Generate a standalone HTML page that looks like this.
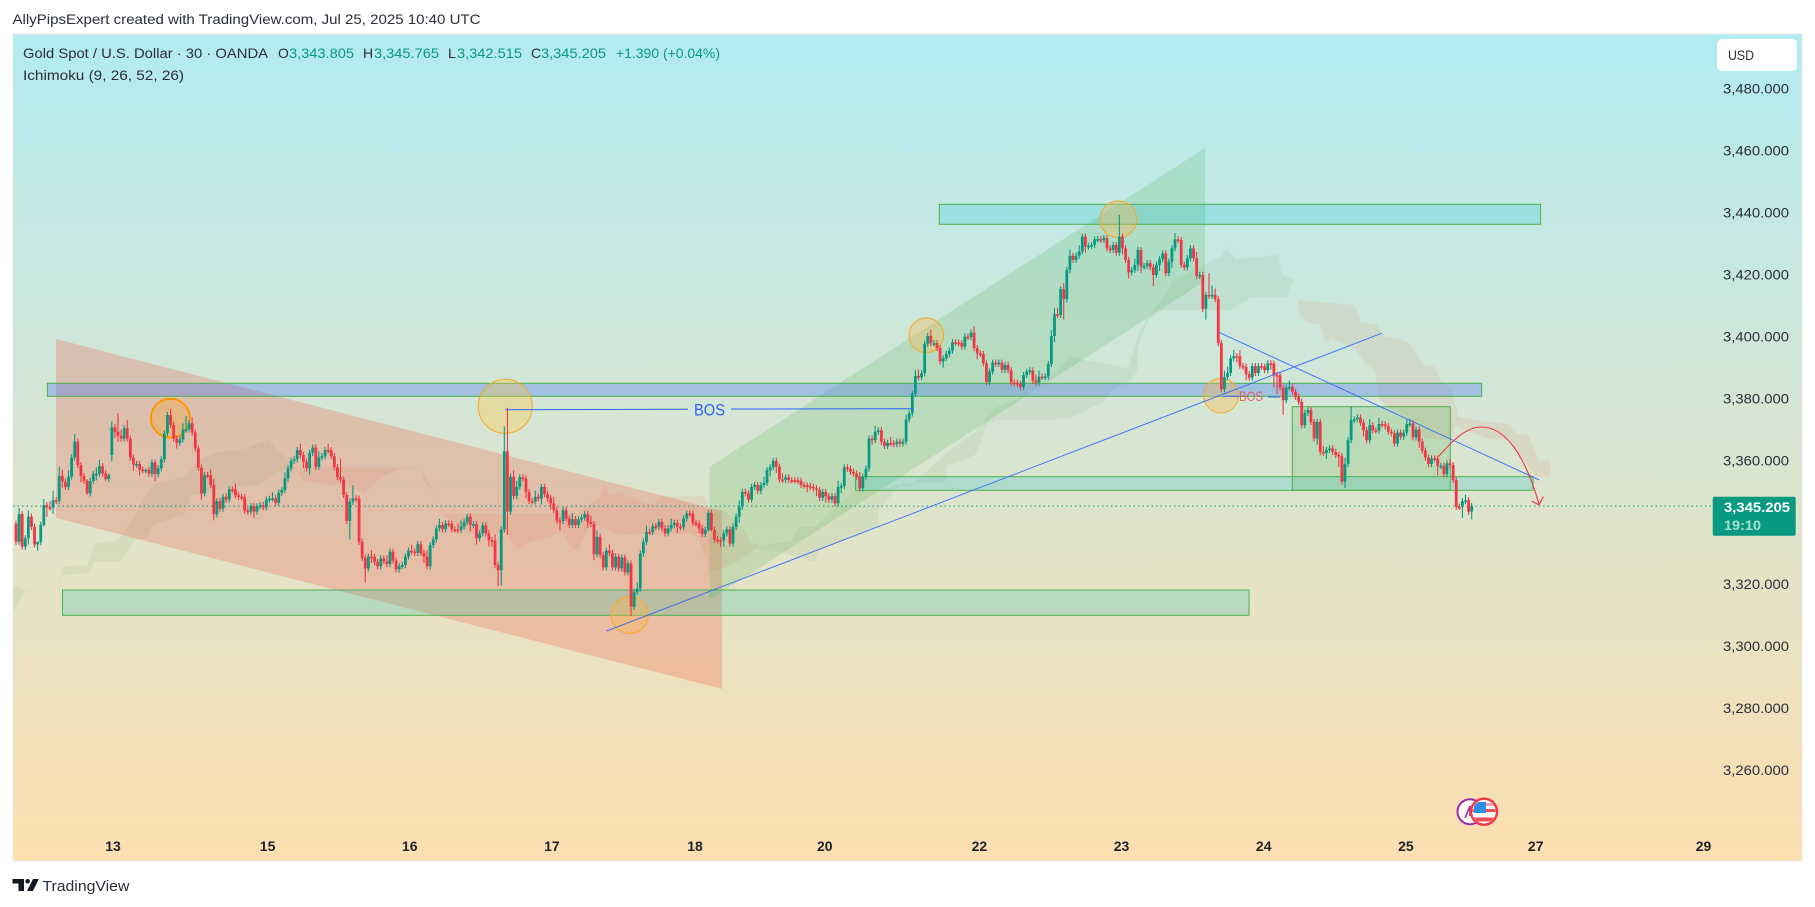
<!DOCTYPE html>
<html lang="en">
<head>
<meta charset="utf-8">
<title>Gold Spot / U.S. Dollar chart</title>
<style>
html,body{margin:0;padding:0;background:#fff;width:1815px;height:907px;overflow:hidden}
svg{display:block;font-family:"Liberation Sans",sans-serif}
</style>
</head>
<body>
<svg id="chart" width="1815" height="907" viewBox="0 0 1815 907" xmlns="http://www.w3.org/2000/svg">
<defs>
<linearGradient id="bgGrad" x1="0" y1="0" x2="0" y2="1">
<stop offset="0" stop-color="#b2ebf2"/>
<stop offset="1" stop-color="#fedfb0"/>
</linearGradient>
<clipPath id="panelClip"><rect x="13" y="34" width="1789" height="827"/></clipPath>
<clipPath id="flagClip"><circle cx="1484" cy="811.7" r="11.5"/></clipPath>
</defs>

<text x="12.5" y="24" font-size="14" fill="#2a2e39" textLength="468" lengthAdjust="spacingAndGlyphs">AllyPipsExpert created with TradingView.com, Jul 25, 2025 10:40 UTC</text>

<rect x="13" y="34" width="1789" height="827" fill="url(#bgGrad)" stroke="#e8e8e8" stroke-width="1"/>

<g id="cloudLayer" clip-path="url(#panelClip)"></g>

<g clip-path="url(#panelClip)">
<polygon points="56,339 722,511 722,689 56,518" fill="rgba(244,67,54,0.23)"/>
<polygon points="709.5,467 1205,148 1205,281 709.5,600" fill="rgba(76,175,80,0.19)"/>
<rect x="939.3" y="204.3" width="601.3" height="20" fill="rgba(0,188,212,0.2)" stroke="#4caf50" stroke-width="1"/>
<rect x="47.4" y="383.3" width="1434.3" height="13" fill="rgba(41,98,255,0.28)" stroke="#4caf50" stroke-width="1"/>
<rect x="855.4" y="476.7" width="677.6" height="13.6" fill="rgba(0,188,212,0.2)" stroke="#4caf50" stroke-width="1"/>
<rect x="62.5" y="590" width="1186.5" height="25.3" fill="rgba(0,188,170,0.2)" stroke="#4caf50" stroke-width="1"/>
<rect x="1292.3" y="406.7" width="158" height="83.6" fill="rgba(76,175,80,0.2)" stroke="#4caf50" stroke-width="1"/>
<circle cx="170.4" cy="418.3" r="19.5" fill="rgba(255,152,0,0.25)" stroke="#ff9800" stroke-width="2"/>
<circle cx="505.3" cy="406.3" r="27" fill="rgba(255,200,60,0.32)" stroke="#f9a825" stroke-width="1"/>
<circle cx="629.7" cy="615" r="18.5" fill="rgba(255,183,77,0.35)" stroke="#f9a825" stroke-width="1"/>
<circle cx="926.3" cy="335.3" r="17.3" fill="rgba(255,183,77,0.35)" stroke="#f9a825" stroke-width="1"/>
<circle cx="1118.3" cy="219.3" r="18.3" fill="rgba(255,183,77,0.35)" stroke="#f9a825" stroke-width="1"/>
<circle cx="1221" cy="395.7" r="17.3" fill="rgba(255,183,77,0.35)" stroke="#f9a825" stroke-width="1"/>
</g>

<line id="lastPriceLine" x1="13" x2="1713" stroke="#089981" stroke-width="1" stroke-dasharray="1.5 3"/>

<g id="candleLayer" clip-path="url(#panelClip)"></g>

<g clip-path="url(#panelClip)">
<line x1="505.3" y1="409.7" x2="688" y2="409.3" stroke="#2962ff" stroke-width="1"/>
<text x="694" y="415.3" font-size="17" fill="#2962ff" textLength="31" lengthAdjust="spacingAndGlyphs">BOS</text>
<line x1="731" y1="409" x2="914" y2="408.7" stroke="#2962ff" stroke-width="1"/>
<line x1="1223" y1="396.3" x2="1239" y2="396.3" stroke="#2962ff" stroke-width="1"/>
<text x="1239" y="401" font-size="14" fill="#f23645" fill-opacity="0.75" textLength="24" lengthAdjust="spacingAndGlyphs">BOS</text>
<line x1="1268" y1="397" x2="1280" y2="397" stroke="#2962ff" stroke-width="1"/>
<line x1="606.5" y1="631" x2="1381.7" y2="333.3" stroke="#2962ff" stroke-width="1" stroke-opacity="0.85"/>
<line x1="1219" y1="332.3" x2="1539.3" y2="480" stroke="#2962ff" stroke-width="1" stroke-opacity="0.85"/>
<path d="M1438.3 456.7 C1455 438 1467 427 1481.7 427 C1505 427 1525 455 1539 504" fill="none" stroke="#f23645" stroke-width="1.1"/>
<path d="M1531.7 501 L1539 505 L1543.3 496.7" fill="none" stroke="#f23645" stroke-width="1.1"/>
</g>

<text x="23" y="58" font-size="14" fill="#2a2e39" textLength="245" lengthAdjust="spacingAndGlyphs">Gold Spot / U.S. Dollar · 30 · OANDA</text>
<text x="278" y="58" font-size="14" fill="#2a2e39">O</text>
<text x="289" y="58" font-size="14" fill="#089981" textLength="65" lengthAdjust="spacingAndGlyphs">3,343.805</text>
<text x="363" y="58" font-size="14" fill="#2a2e39">H</text>
<text x="374" y="58" font-size="14" fill="#089981" textLength="65" lengthAdjust="spacingAndGlyphs">3,345.765</text>
<text x="448" y="58" font-size="14" fill="#2a2e39">L</text>
<text x="457" y="58" font-size="14" fill="#089981" textLength="65" lengthAdjust="spacingAndGlyphs">3,342.515</text>
<text x="531" y="58" font-size="14" fill="#2a2e39">C</text>
<text x="541" y="58" font-size="14" fill="#089981" textLength="65" lengthAdjust="spacingAndGlyphs">3,345.205</text>
<text x="616" y="58" font-size="14" fill="#089981" textLength="104" lengthAdjust="spacingAndGlyphs">+1.390 (+0.04%)</text>
<text x="23" y="80" font-size="14" fill="#2a2e39" textLength="161" lengthAdjust="spacingAndGlyphs">Ichimoku (9, 26, 52, 26)</text>

<g>
<rect x="1717" y="39" width="80" height="32" rx="5" fill="#ffffff"/>
<text x="1728" y="60" font-size="13.5" fill="#2a2e39" textLength="26" lengthAdjust="spacingAndGlyphs">USD</text>
</g>

<g id="priceAxis"></g>
<g id="timeAxis"></g>

<g>
<rect x="1712.7" y="496.7" width="83" height="39" rx="2" fill="#089981"/>
<text x="1724" y="512" font-size="14" font-weight="bold" fill="#ffffff" textLength="66" lengthAdjust="spacingAndGlyphs">3,345.205</text>
<text x="1724" y="530" font-size="14" font-weight="bold" fill="#a9dfd2" textLength="37" lengthAdjust="spacingAndGlyphs">19:10</text>
</g>

<g>
<circle cx="1470" cy="811.7" r="12.5" fill="#ffffff" stroke="#9c27b0" stroke-width="2"/>
<path d="M1465 818 L1470 806 L1470 816" fill="none" stroke="#9c27b0" stroke-width="1.6"/>
<circle cx="1484" cy="811.7" r="13" fill="#ffffff" stroke="#f23645" stroke-width="2.4"/>
<g clip-path="url(#flagClip)">
<rect x="1472" y="803" width="24" height="3" fill="#f7a1a4"/>
<rect x="1472" y="809" width="24" height="3" fill="#f44b55"/>
<rect x="1472" y="817.5" width="24" height="4" fill="#f44b55"/>
<rect x="1474" y="802" width="12" height="11" fill="#2f8fe8"/>
</g>
</g>

<g>
<path d="M12.5 879 H24 V891 H18.5 V883.5 H12.5 Z M33 879 H38.8 L33 891 H27 Z" fill="#131722"/>
<circle cx="27.6" cy="881.3" r="2.3" fill="#131722"/>
<text x="42.4" y="891" font-size="14.5" fill="#2a2e39" textLength="87" lengthAdjust="spacingAndGlyphs">TradingView</text>
</g>
</svg>

<script>
const closes = [
3333.7,3342.6,3332.1,3334.8,3341.8,3338.5,3332.8,3333.7,3339.1,3345.5,3344.8,3344.7,3347.1,3346.9,3354.9,3353.1,3351.4,3354.7,3360.9,3366.0,
3358.4,3354.9,3353.4,3349.3,3353.3,3355.5,3355.7,3358.1,3355.7,3353.9,3355.2,3370.6,3369.2,3367.9,3367.0,3370.3,3367.0,3360.8,3358.6,3358.8,
3357.0,3356.8,3356.9,3355.7,3359.3,3355.5,3357.4,3360.3,3368.7,3374.6,3371.4,3367.0,3365.6,3366.7,3369.9,3370.0,3371.9,3368.9,3363.8,3357.6,
3349.3,3355.2,3355.1,3352.0,3342.6,3346.8,3344.4,3348.2,3347.3,3350.6,3350.5,3348.7,3348.2,3348.1,3343.7,3343.4,3345.2,3343.4,3345.2,3345.5,
3344.8,3347.3,3347.6,3347.7,3346.3,3349.5,3350.4,3354.1,3357.4,3359.8,3360.3,3363.3,3361.7,3359.5,3357.4,3362.4,3364.1,3357.9,3360.9,3361.3,
3363.3,3363.2,3361.3,3357.7,3354.5,3353.8,3348.8,3340.4,3346.6,3347.7,3347.6,3333.7,3328.5,3325.1,3328.9,3328.8,3327.2,3325.8,3328.3,3327.4,
3326.5,3330.5,3327.6,3324.8,3325.8,3326.2,3328.9,3330.8,3330.5,3330.1,3332.9,3330.1,3328.9,3325.8,3332.6,3334.4,3338.0,3339.1,3337.7,3339.6,
3339.5,3337.7,3337.6,3337.5,3338.6,3340.1,3341.8,3339.1,3339.4,3334.8,3336.4,3339.0,3336.4,3334.2,3334.1,3326.2,3324.5,3337.7,3362.9,3343.4,
3354.7,3348.4,3351.4,3354.5,3354.1,3349.8,3346.8,3346.7,3348.2,3347.7,3351.4,3349.1,3347.7,3346.1,3343.9,3340.5,3340.4,3343.9,3341.2,3339.1,
3341.0,3339.1,3340.9,3341.5,3342.6,3340.1,3339.4,3329.7,3335.3,3329.4,3325.4,3330.8,3330.1,3325.4,3328.9,3325.1,3328.6,3323.8,3326.7,3312.7,
3317.5,3318.6,3329.9,3333.7,3336.9,3336.8,3338.7,3338.5,3340.1,3338.0,3336.4,3338.0,3339.1,3339.8,3338.5,3338.4,3341.2,3342.8,3342.7,3339.8,
3339.6,3338.0,3336.2,3337.5,3343.0,3337.5,3334.4,3334.2,3334.1,3336.4,3337.7,3333.1,3338.5,3341.8,3345.0,3349.8,3349.3,3347.3,3351.4,3352.0,
3350.1,3352.0,3352.7,3356.8,3357.7,3359.8,3357.9,3353.8,3353.7,3354.5,3353.6,3353.55,3353.5,3353.4,3352.0,3351.9,3351.7,3351.4,3350.9,3350.4,
3347.9,3349.8,3348.4,3347.3,3348.4,3346.1,3351.4,3351.7,3357.7,3357.3,3356.3,3355.7,3354.7,3350.9,3354.7,3357.3,3367.0,3366.5,3369.2,3369.7,
3366.0,3364.6,3365.6,3365.5,3365.2,3366.0,3365.4,3366.0,3373.2,3375.1,3381.4,3387.2,
3386.8,3388.1,3397.6,3400.1,3397.8,3397.8,3396.2,3391.9,
3392.9,3394.3,3395.4,3398.1,3398.0,3397.8,3396.7,3399.9,3399.8,3401.2,3396.2,3394.5,3394.3,3391.3,3385.2,3388.6,3391.5,3391.1,3391.5,3389.2,
3390.8,3389.0,3385.1,3385.0,3384.6,3383.6,3387.5,3388.6,3389.0,3385.7,3385.1,3387.0,3386.9,3387.0,3391.1,3400.1,3407.1,3406.9,3415.2,3412.0,
3421.4,3426.0,3424.7,3426.0,3427.4,3432.2,3429.0,3429.2,3429.5,3431.3,3431.4,3431.1,3431.7,3428.4,3427.9,3429.5,3427.0,3432.2,3428.4,3424.7,
3420.6,3421.4,3423.1,3427.9,3422.5,3422.7,3423.6,3422.3,3419.8,3423.1,3424.9,3426.8,3420.4,3424.1,3428.4,3431.3,3431.1,3423.1,3422.3,3425.2,
3428.4,3425.2,3419.5,3419.8,3408.9,3413.4,3413.1,3413.4,3412.0,3397.8,
3382.9,3386.9,3388.2,3392.9,3393.6,3393.55,3390.5,3390.2,3387.8,3386.7,
3390.4,3388.2,3390.4,3390.2,3389.1,3391.3,3391.2,3387.5,3387.4,3383.4,
3379.4,3383.5,3383.7,3382.1,3380.5,3378.9,3371.3,3375.3,3376.2,3372.4,
3367.0,3372.4,3362.7,3362.4,3363.3,3363.8,3362.7,3361.7,3361.3,3353.1,
3358.8,3366.5,3373.0,3373.2,3373.8,3372.1,3369.7,3366.5,3371.3,3369.7,
3369.6,3371.7,3371.6,3371.0,3369.2,3368.7,3365.4,3368.9,3367.6,3368.9,
3371.7,3371.9,3367.4,3369.9,3366.0,3363.1,3360.9,3358.8,3360.6,3360.55,
3358.1,3358.2,3355.5,3359.0,3358.4,3353.6,3345.0,3344.9,3346.8,3347.1,
3343.4,3345.2
];
const wickUp = [
1,2,1,1,2,1,1,0,1,2,1,2,3,1,3,2,1,2,1,2.5,
1,1,1,0.5,1,1,2,2,1,1,0.5,2,1,6,2,1,2.7,1,1,1,
1,1,0.5,1,1,1,1,1,1,1,2,1,1,1,2,4.3,1,2,1,1,
1,1,1,2,2,1,1,1,1,1,1,2,1,1,1,1,1,1,1,1,
1,1,1,2,1,1,1,2,1,1,1,1,2,1,1,1,1,1,2,1,
1,2,1,1,1,6,1,1,1,4.3,1,1,1,1,1,2,1,1,1,1,
2,1,1,1,1,1,1,1,2,1,1,1,1,2,1,1,1,2,1,1,
1,1,1,2,2,1,1,1,1,1,1,1,1,1,1,2,1,1,8,14,
1,2,2,1,1,1,1,1,2,1,1,1,1,1,2,1,1,1,1,1,
2,1,1,1,1,1,2,1,2,1,1,1,2,1,1,1,1,1,1,1,
1,2,1,1,2,1,1,1,1,1,1,1,2,1,1,1,1,1,1,1,
1,1,1,1,1,1,1,1,1,1,1,1,1,1,2,1,1,1,1,1,
1,1,2,1,1,1,1,1,2,1,1,1,1,1,1,1,1,1,1,1,
1,1,1,1,1,1,2,1,1,1,1,1,1,1.5,1,1,1,1,2,1,
1,1,1,2,1,1,1,1,1.5,1,1,2,2,1,1,1,2,1,1,1,
1,1,1,1,1,1,1,1,1,1,2,1,1,1,1,1,1,1,1,1,
1,1,1,1,1,1,1,1,1,1,2,2,1,1,1,2,2,2,1,2,
1,2,1,1,2,1,1,1,1,1,1,1,1,1,1,1,1,7,1,1,
1,1,2,1,1,1,1,1,1,1,1,1,1,1,1,2,1,1,1,1,
1,1,2,1,1,1,7,3,2,1,1,2,2,1,2,1,2,1,1,1,
1,1,1,1,1,1,1,1,1,1,1,1,2,1,1,1,1,1,1,1,
1,1,1,2,1,1,1,1,1,1,2,1,4.3,1,1,1,1,1,2,1,
1,2,1,1,1,1,1,1,1,1,1.5,1.5,1,1,1,1,1,1,1,1,
1,1,1,1,1.5,1,1,1,1,1.8,1,1
];
const wickDown = [
1,1,1,1,2,1,1,2,1,0.5,3,1,2,1,1,2,1,1,1,1,
1,2,1,0.5,1,1,2,1,1,0.5,1,2,2,2,1,1,1,1,2,1,
2,1,1,1,1,2.3,1,1,1,1,1,1,1.8,1,1,1,1,1,1,1,
2,1,1,1,2,1,1,1,1,1,1,1,1,1,1,1,1,2,1,1,
1,1,1,1,1,1,1,1,1,1,1,1,1,2,1,2,1,1,1,1,
1,1,1,1,1,1,1,1,6,1,1,1,1,4.5,1,2,1,1,1,1,
1,1,1,1,1,1,1,1,1,1,1,1,2,1,1,1,1,1,1,1,
1,1,1,1,1,1,1,2,1,2,1,1,1,2,2,1,5,5,1,7.5,
1,1,1,1,1,2,1,1,1,1,2,1,1,2,1,1,3,1,1,1,
1,1,1,1,1,2,1,2,1,1,1,1,1,1,1,1,1,1,1,3,
1,1,1,1,1,1,1,1,1,1,1,1,1,1,2,1,1,1,1,1,
1,1.5,1,1,0.5,0.5,1,1,2,2,1,1,1,1,2,1,1,1,1,1,
1,1,1,1,2,1,2,1,1,1,1,1,1,1,1,1,2,1,1,2,
1,1,2,1,1,1,1,2,1,1,1,1,1,1,1,1,1,1.5,1,1,
1,1,1,1,1,1,1,1,1,1,1,1,1,1,1,1,1,1,1,1,
2,1,1,1,1,1,1,1,1,1,1,2,1,1,1,1,1,1,1,1,
1,1,1,1,1,1,1,1,1,1,1,1,1,1,1,1,2,1,1,6.5,
1,1,1,1,1,1,2,1,1,1,1,1,1,1,1,1,1,1,2,1,
2,1,1,2,2,1,1,1,3.5,1,2,1,1,1,2,1,1,1,1,1,
1,1,1,1,1,3.5,1,1,1,1,1,1,1,1,1,2,1,1,2,1,
1,1,1,1,1,1,2,4,6,1,4.8,1,1,1,1,1,1,1,1,1,
1,2,1,1,2,1,1,1,3.5,1,2,1,1,1,1,1,2,1,1,1,
1,1,1,1,1,1,1,1,1,1,1,1,1,1,2,1,1,1,1,1,
3,1,1,1,1,1,1,1,3.5,1,1,2.5
];
const gapBars = [0, 31];
const gapOpens = [3339.5, 3361.7];

const priceTicks = [3480,3460,3440,3420,3400,3380,3360,3340,3320,3300,3280,3260];
const priceTickLabels = ["3,480.000","3,460.000","3,440.000","3,420.000","3,400.000","3,380.000","3,360.000","","3,320.000","3,300.000","3,280.000","3,260.000"];
const timeTickLabels = ["13","15","16","17","18","20","22","23","24","25","27","29"];
const timeTickBars = [31.4,81.4,127.4,173.4,219.7,261.7,311.7,357.7,403.7,449.7,491.7,546];
const lastPrice = 3345.205;

const cloudGreen1Bars = [-1,3.8,14,15.3,23,25.5,33.2,39,44.1,55,58.9,64,74.2,81.9,84.5,88.3,88.3,78,69.1,58.9,56.3,55,44.1,42.2,38.4,33.9,25.5,23,15.3,14,3.1,-0.7];
const cloudGreen1Prices = [3319.7,3318.1,3320.2,3325.6,3326.1,3333.1,3334.2,3342.8,3352.5,3354.7,3360,3362.2,3363.8,3366.7,3363.3,3360,3357.9,3352,3351.4,3348.8,3348.8,3342.8,3339.1,3334.8,3334.2,3327.2,3327.2,3323.5,3322.9,3320.2,3318.1,3311.1];
const cloudRed1Bars = [89.6,130.6,132.5,135.1,137.6,181.8,189,190.5,192,195.6,198.2,205.9,208.4,222.5,224.4,228.9,234.7,237.9,240.4,240.4,232.8,227.6,224.4,223.1,220.6,217.4,195,186,181.8,179.9,176.7,166.5,162.6,158.8,146,137.6,134.4,130.6,124.2,117.8,112.7,106.2,101.1,93.4];
const cloudRed1Prices = [3357.7,3357.7,3352.5,3349.8,3342.8,3342.8,3348.4,3352.8,3348.4,3349.8,3348.2,3345.5,3348.4,3348.4,3343.9,3343.9,3338.5,3333.1,3333.1,3332,3326.9,3324.5,3324.5,3328.8,3335.3,3336.4,3336,3340,3331,3331.5,3336.4,3333.7,3331,3336.4,3336.4,3342.8,3351.4,3357.4,3357.4,3354.1,3349.3,3352,3352,3353.6];
const cloudGreen2Bars = [241.1,250.7,253.2,258.4,263.5,271.2,278.9,285.3,289.1,300.6,310,317,330,341.5,345.8,359.8,363,367.4,371.7,373.9,383.6,387.9,390,391.5,394.4,408.4,409.7,413.3,411.1,399.8,392.8,370.6,366.3,363,362.8,360.9,353.8,351.9,341,335.2,317.3,314.1,310.9,308.3,301.3,300.6,286.6,278.9,278.9,259.7,258.4,246.8,240.4];
const cloudGreen2Prices = [3332.6,3333.7,3338.5,3338.5,3343.4,3350.4,3350.4,3352,3351.4,3362,3369,3377,3382,3393.5,3392.4,3389.7,3400,3408,3413.4,3417.7,3422.5,3424.9,3425.5,3428.7,3424.9,3426.3,3419.8,3418.4,3412.8,3412.6,3408.5,3408.3,3405.3,3396.7,3389.1,3385.9,3382.1,3378.9,3373.5,3373.2,3373,3371.9,3362.2,3360.6,3358.4,3353,3352.5,3343.9,3338.5,3331,3327.2,3330.5,3331];
const cloudRed2Bars = [413.6,414.6,433.2,435.3,440.2,442.9,447.2,451,453.7,455.3,459.1,460.7,464.5,466.7,473.1,482.3,485.6,489.3,492.6,496.4,496.4,492,490.4,482.9,476.4,465.6,464.5,455.9,452.6,444,440.7,439.7,436.4,433.2,425.6,424.5,423.5,421.8,418,415.4];
const cloudRed2Prices = [3418.2,3411.7,3410.1,3404.2,3404,3399.9,3399.3,3397.7,3393.4,3390.7,3390.2,3385.9,3383.2,3374,3372.7,3371.9,3368.7,3368.1,3360,3359.8,3354.7,3354.7,3356.8,3366.5,3367,3370.8,3366.5,3367,3372.4,3377.3,3380,3389.1,3391.3,3396.1,3399.3,3398.3,3398.8,3404,3404.2,3406.9];

const SVG_NS = 'http://www.w3.org/2000/svg';
const firstBarX = 16;
const lastBarX = 1471.7;
const barStep = (lastBarX - firstBarX) / (closes.length - 1);
function xScale(bar) { return firstBarX + bar * barStep; }
function yScale(price) { return 88.5 + (3480 - price) * 3.098; }

const cloudLayer = document.getElementById('cloudLayer');
const candleLayer = document.getElementById('candleLayer');
const priceAxis = document.getElementById('priceAxis');
const timeAxis = document.getElementById('timeAxis');

function outlinePoints(bars, prices) {
  return bars.map(function (b, i) { return xScale(b).toFixed(1) + ',' + yScale(prices[i]).toFixed(1); }).join(' ');
}

const greenCloudFill = 'rgba(70,140,60,0.075)';
const redCloudFill = 'rgba(225,90,60,0.09)';

const green1 = document.createElementNS(SVG_NS, 'polygon');


green1.setAttribute('points', outlinePoints(cloudGreen1Bars, cloudGreen1Prices));
green1.setAttribute('fill', greenCloudFill);
cloudLayer.appendChild(green1);

const red1 = document.createElementNS(SVG_NS, 'polygon');


red1.setAttribute('points', outlinePoints(cloudRed1Bars, cloudRed1Prices));
red1.setAttribute('fill', redCloudFill);
cloudLayer.appendChild(red1);

const green2 = document.createElementNS(SVG_NS, 'polygon');


green2.setAttribute('points', outlinePoints(cloudGreen2Bars, cloudGreen2Prices));
green2.setAttribute('fill', greenCloudFill);
cloudLayer.appendChild(green2);

const red2 = document.createElementNS(SVG_NS, 'polygon');


red2.setAttribute('points', outlinePoints(cloudRed2Bars, cloudRed2Prices));
red2.setAttribute('fill', redCloudFill);
cloudLayer.appendChild(red2);

closes.forEach(function (close, i) {
  const gapIndex = gapBars.indexOf(i);
  const open = gapIndex >= 0 ? gapOpens[gapIndex] : (i > 0 ? closes[i - 1] : close);
  const top = Math.max(open, close);
  const bottom = Math.min(open, close);
  const high = top + (wickUp[i] === undefined ? 1 : wickUp[i]);
  const low = bottom - (wickDown[i] === undefined ? 1 : wickDown[i]);
  const color = close >= open ? '#089981' : '#f23645';
  const cx = xScale(i);

  const wick = document.createElementNS(SVG_NS, 'line');
  
  
  wick.setAttribute('x1', cx.toFixed(2));
  wick.setAttribute('x2', cx.toFixed(2));
  wick.setAttribute('y1', yScale(high).toFixed(2));
  wick.setAttribute('y2', yScale(low).toFixed(2));
  wick.setAttribute('stroke', color);
  wick.setAttribute('stroke-width', '1.1');
  candleLayer.appendChild(wick);

  const body = document.createElementNS(SVG_NS, 'rect');
  
  
  body.setAttribute('x', (cx - 1.4).toFixed(2));
  body.setAttribute('y', yScale(top).toFixed(2));
  body.setAttribute('width', '2.8');
  body.setAttribute('height', Math.max(1.6, yScale(bottom) - yScale(top)).toFixed(2));
  body.setAttribute('fill', color);
  candleLayer.appendChild(body);
});

priceTicks.forEach(function (price, i) {
  const label = document.createElementNS(SVG_NS, 'text');
  
  
  label.setAttribute('x', '1723');
  label.setAttribute('y', (yScale(price) + 5).toFixed(1));
  label.setAttribute('font-size', '14');
  label.setAttribute('fill', '#2a2e39');
  if (priceTickLabels[i]) {
    label.setAttribute('textLength', '66');
    label.setAttribute('lengthAdjust', 'spacingAndGlyphs');
  }
  label.textContent = priceTickLabels[i];
  priceAxis.appendChild(label);
});

timeTickLabels.forEach(function (tick, i) {
  const label = document.createElementNS(SVG_NS, 'text');
  
  
  label.setAttribute('x', xScale(timeTickBars[i]).toFixed(1));
  label.setAttribute('y', '851');
  label.setAttribute('font-size', '14');
  label.setAttribute('font-weight', 'bold');
  label.setAttribute('fill', '#1e222d');
  label.setAttribute('text-anchor', 'middle');
  label.textContent = tick;
  timeAxis.appendChild(label);
});

const priceLine = document.getElementById('lastPriceLine');
priceLine.setAttribute('y1', yScale(lastPrice).toFixed(1));
priceLine.setAttribute('y2', yScale(lastPrice).toFixed(1));
</script>
</body>
</html>
